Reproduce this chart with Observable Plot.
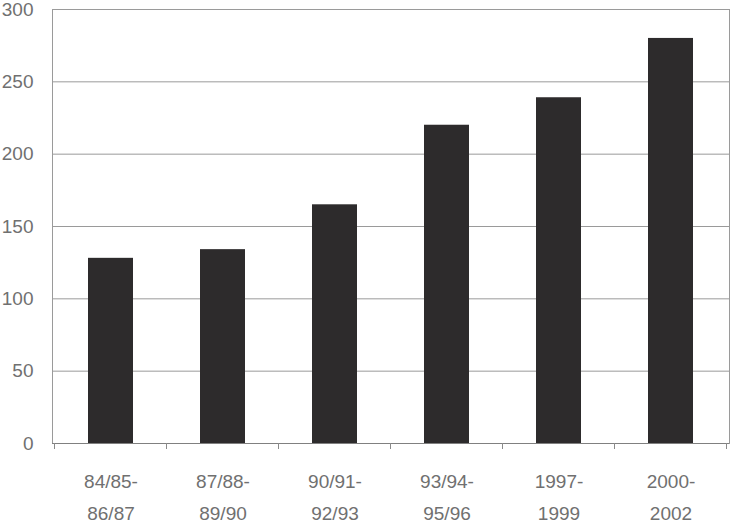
<!DOCTYPE html>
<html>
<head>
<meta charset="utf-8">
<script src="https://cdn.jsdelivr.net/npm/d3@7"></script>
<script src="https://cdn.jsdelivr.net/npm/@observablehq/plot@0.6"></script>
<style>
  html, body { margin: 0; padding: 0; background: #fff; }
  #chart svg { display: block; }
</style>
</head>
<body>
<div id="chart"></div>
<script>
const periods = ["84/85-\n86/87", "87/88-\n89/90", "90/91-\n92/93", "93/94-\n95/96", "1997-\n1999", "2000-\n2002"];
const values = [128, 134, 165, 220, 239, 280];
const yTicks = [0, 50, 100, 150, 200, 250, 300];

const data = periods.map((p, i) => ({period: p, value: values[i]}));

const textColor = "#707070";
const font = "Liberation Sans, Arial, Helvetica, sans-serif";

// category boundary ticks below the baseline, positioned from the band scale
function boundaryTicks(index, scales, vals, dimensions) {
  const x = scales.x, y = scales.y;
  const bw = typeof x.bandwidth === "function" ? x.bandwidth() : x.bandwidth;
  const starts = periods.map(p => x(p));
  const step = starts.length > 1 ? starts[1] - starts[0] : bw;
  const gap = (step - bw) / 2;
  const edges = starts.map(s => s - gap).concat([starts[starts.length - 1] + bw + gap]);
  const y0 = y(0);
  const g = d3.create("svg:g");
  g.selectAll("line").data(edges).join("line")
    .attr("x1", d => d).attr("x2", d => d)
    .attr("y1", y0).attr("y2", y0 + 6)
    .attr("stroke", "#8a8a8a").attr("stroke-width", 1);
  return g.node();
}

const chart = Plot.plot({
  width: 733,
  height: 524,
  marginLeft: 52,
  marginRight: 4,
  marginTop: 9,
  marginBottom: 81,
  style: {fontFamily: font, fontSize: "19px", color: textColor, background: "#fff"},
  x: {domain: periods, paddingInner: 0.6, paddingOuter: 0.3, axis: null},
  y: {domain: [0, 300], ticks: yTicks, axis: null},
  marks: [
    Plot.ruleY(yTicks.slice(1), {stroke: "#9a9a9a", strokeWidth: 1}),
    Plot.frame({stroke: "#9a9a9a", strokeWidth: 1}),
    Plot.barY(data, {x: "period", y: "value", fill: "#2d2b2c"}),
    Plot.ruleY([0], {stroke: "#808080", strokeWidth: 1}),
    boundaryTicks,
    Plot.axisY({ticks: yTicks, tickSize: 0, tickPadding: 19, fontSize: 19, fill: textColor, label: null, tickFormat: d => String(d)}),
    Plot.text(periods, {
      x: d => d,
      text: d => d,
      frameAnchor: "bottom",
      lineAnchor: "top",
      dy: 22,
      lineHeight: 1.68,
      fontSize: 19,
      fill: textColor
    })
  ]
});

document.getElementById("chart").appendChild(chart);
</script>
</body>
</html>
